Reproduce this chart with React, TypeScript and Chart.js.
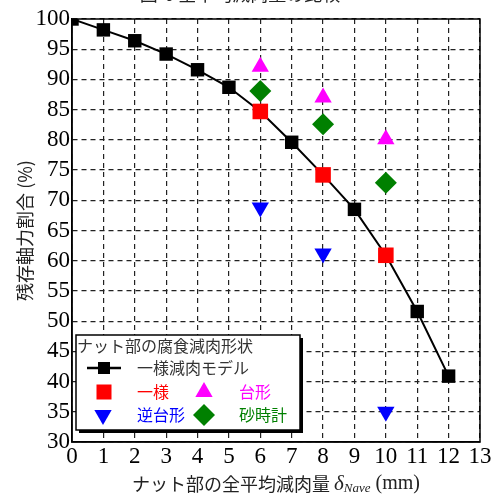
import React, { useEffect, useRef } from "react";
import { Chart, registerables } from "chart.js";

Chart.register(...registerables);

// Data
const modelX = [0, 1, 2, 3, 4, 5, 6, 7, 8, 9, 10, 11, 12];
const modelY = [100, 98.2, 96.4, 94.2, 91.6, 88.7, 84.7, 79.6, 74.2, 68.5, 60.9, 51.6, 40.9];
const shapeX = [6, 8, 10];
const uniformY = [84.7, 74.2, 60.9]; // 一様
const trapezoidY = [92.1, 87.0, 80.1]; // 台形
const invTrapezoidY = [68.8, 61.2, 35.0]; // 逆台形
const hourglassY = [88.1, 82.6, 72.9]; // 砂時計

const xTicksMin = 0;
const xTicksMax = 13;
const yTicksMin = 30;
const yTicksMax = 100;

const legendTitle = "ナット部の腐食減肉形状";
const legendModel = "一様減肉モデル";
const legendUniform = "一様";
const legendTrap = "台形";
const legendInv = "逆台形";
const legendHour = "砂時計";
const yTitle = "残存軸力割合 (%)";
const xTitleJa = "ナット部の全平均減肉量 ";
const figTitle = "図-6 全平均減肉量の比較";

const JA = '"Noto Sans CJK JP", sans-serif';
const SERIF = '"Liberation Serif", "DejaVu Serif", serif';

const toPts = (xs: number[], ys: number[]) => xs.map((x, i) => ({ x, y: ys[i] }));

function drawSquare(ctx: CanvasRenderingContext2D, x: number, y: number, s: number, color: string) {
  ctx.fillStyle = color;
  ctx.fillRect(x - s / 2, y - s / 2, s, s);
}
function drawTri(ctx: CanvasRenderingContext2D, x: number, y: number, r: number, color: string, down: boolean) {
  ctx.fillStyle = color;
  ctx.beginPath();
  const d = down ? -1 : 1;
  const h = r * 1.5;
  ctx.moveTo(x, y - d * r);
  ctx.lineTo(x + r * 0.866, y - d * r + d * h);
  ctx.lineTo(x - r * 0.866, y - d * r + d * h);
  ctx.closePath();
  ctx.fill();
}
function drawDiamond(ctx: CanvasRenderingContext2D, x: number, y: number, r: number, color: string) {
  ctx.fillStyle = color;
  ctx.beginPath();
  ctx.moveTo(x, y - r);
  ctx.lineTo(x + r, y);
  ctx.lineTo(x, y + r);
  ctx.lineTo(x - r, y);
  ctx.closePath();
  ctx.fill();
}

const framePlugin = {
  id: "frame",
  beforeDatasetsDraw(chart: any) {
    const { ctx, chartArea } = chart;
    ctx.save();
    ctx.strokeStyle = "#000";
    ctx.lineWidth = 1.5;
    ctx.setLineDash([]);
    ctx.strokeRect(chartArea.left, chartArea.top, chartArea.right - chartArea.left, chartArea.bottom - chartArea.top);
    ctx.restore();
  },
  afterDraw(chart: any) {
    const { ctx, chartArea } = chart;
    ctx.save();
    // top figure title (cut off)
    ctx.fillStyle = "#222";
    ctx.font = `18px ${JA}`;
    ctx.textAlign = "center";
    ctx.textBaseline = "alphabetic";
    ctx.fillText(figTitle, 240, 1);

    // y title
    ctx.save();
    ctx.translate(25, (chartArea.top + chartArea.bottom) / 2);
    ctx.rotate(-Math.PI / 2);
    ctx.font = `18px ${JA}`;
    ctx.textAlign = "center";
    ctx.textBaseline = "middle";
    ctx.fillStyle = "#222";
    ctx.fillText(yTitle, 0, 0);
    ctx.restore();

    // x title with subscript
    const cy = 484;
    const parts = [
      { t: xTitleJa, f: `18px ${JA}`, dy: 0 },
      { t: "δ", f: `italic 21px ${SERIF}`, dy: 0 },
      { t: "Nave", f: `italic 13px ${SERIF}`, dy: 5 },
      { t: " (mm)", f: `20px ${SERIF}`, dy: 0 },
    ];
    let total = 0;
    for (const p of parts) {
      ctx.font = p.f;
      total += ctx.measureText(p.t).width;
    }
    let x = (chartArea.left + chartArea.right) / 2 - total / 2;
    ctx.textAlign = "left";
    ctx.textBaseline = "middle";
    ctx.fillStyle = "#222";
    for (const p of parts) {
      ctx.font = p.f;
      ctx.fillText(p.t, x, cy + p.dy);
      x += ctx.measureText(p.t).width;
    }

    // legend box
    const bx = 76, by = 335, bw = 224, bh = 95;
    ctx.fillStyle = "#000";
    ctx.fillRect(bx + 3, by + 3, bw, bh);
    ctx.fillStyle = "#fff";
    ctx.fillRect(bx, by, bw, bh);
    ctx.strokeStyle = "#000";
    ctx.lineWidth = 1.5;
    ctx.strokeRect(bx, by, bw, bh);

    ctx.textAlign = "left";
    ctx.textBaseline = "middle";
    ctx.font = `16px ${JA}`;
    ctx.fillStyle = "#333";
    ctx.fillText(legendTitle, 77, 346);

    // model entry
    ctx.strokeStyle = "#000";
    ctx.lineWidth = 2.5;
    ctx.beginPath();
    ctx.moveTo(87, 368);
    ctx.lineTo(121, 368);
    ctx.stroke();
    drawSquare(ctx, 104, 368, 12, "#000");
    ctx.fillStyle = "#333";
    ctx.fillText(legendModel, 137, 368);

    drawSquare(ctx, 104, 392, 15, "#ff0000");
    ctx.fillStyle = "#ff0000";
    ctx.fillText(legendUniform, 137, 392);
    drawTri(ctx, 204, 392, 10, "#ff00ff", false);
    ctx.fillStyle = "#ff00ff";
    ctx.fillText(legendTrap, 239, 392);

    drawTri(ctx, 103, 415, 10, "#0000ff", true);
    ctx.fillStyle = "#0000ff";
    ctx.fillText(legendInv, 137, 415);
    drawDiamond(ctx, 204, 415, 11, "#008000");
    ctx.fillStyle = "#008000";
    ctx.fillText(legendHour, 239, 415);
    ctx.restore();
  },
};

export default function App() {
  const ref = useRef<HTMLCanvasElement>(null);
  useEffect(() => {
    if (!ref.current) return;
    const chart = new Chart(ref.current, {
      type: "scatter",
      data: {
        datasets: [
          {
            label: legendUniform,
            data: toPts(shapeX, uniformY),
            pointStyle: "rect",
            pointRadius: 11,
            backgroundColor: "#ff0000",
            borderColor: "#ff0000",
            borderWidth: 0,
            showLine: false,
            order: 0,
          },
          {
            label: legendTrap,
            data: toPts(shapeX, trapezoidY),
            pointStyle: "triangle",
            pointRadius: 10,
            backgroundColor: "#ff00ff",
            borderColor: "#ff00ff",
            borderWidth: 0,
            showLine: false,
            order: 1,
          },
          {
            label: legendInv,
            data: toPts(shapeX, invTrapezoidY),
            pointStyle: "triangle",
            rotation: 180,
            pointRadius: 10,
            backgroundColor: "#0000ff",
            borderColor: "#0000ff",
            borderWidth: 0,
            showLine: false,
            order: 2,
          },
          {
            label: legendHour,
            data: toPts(shapeX, hourglassY),
            pointStyle: "rectRot",
            pointRadius: 11,
            backgroundColor: "#008000",
            borderColor: "#008000",
            borderWidth: 0,
            showLine: false,
            order: 3,
          },
          {
            label: legendModel,
            data: toPts(modelX, modelY),
            pointStyle: "rect",
            pointRadius: 9.5,
            backgroundColor: "#000",
            borderColor: "#000",
            borderWidth: 2,
            pointBorderWidth: 0,
            showLine: true,
            order: 4,
          },
        ],
      },
      options: {
        animation: false,
        responsive: false,
        maintainAspectRatio: false,
        layout: { padding: { top: 19, right: 17, left: 0, bottom: 0 } },
        plugins: { legend: { display: false }, tooltip: { enabled: false }, title: { display: false } },
        scales: {
          x: {
            type: "linear",
            min: xTicksMin,
            max: xTicksMax,
            ticks: { stepSize: 1, autoSkip: false, color: "#000", padding: 1, font: { family: SERIF, size: 23 }, maxRotation: 0 },
            grid: { color: "#222", lineWidth: 1.2, drawTicks: false },
            border: { display: true, color: "#000", width: 1.5, dash: [5, 4] },
            afterFit: (s: any) => { s.height = 53; },
          },
          y: {
            type: "linear",
            min: yTicksMin,
            max: yTicksMax,
            ticks: { stepSize: 5, autoSkip: false, color: "#000", padding: 2, font: { family: SERIF, size: 23 } },
            grid: { color: "#222", lineWidth: 1.2, drawTicks: false },
            border: { display: true, color: "#000", width: 1.5, dash: [5, 4] },
            afterFit: (s: any) => { s.width = 72; },
          },
        },
      },
      plugins: [framePlugin],
    } as any);
    return () => chart.destroy();
  }, []);
  return (
    <div style={{ position: "fixed", left: 0, top: 0, width: 497, height: 495, background: "#fff" }}>
      <canvas ref={ref} width={497} height={495} style={{ width: 497, height: 495 }} />
    </div>
  );
}
